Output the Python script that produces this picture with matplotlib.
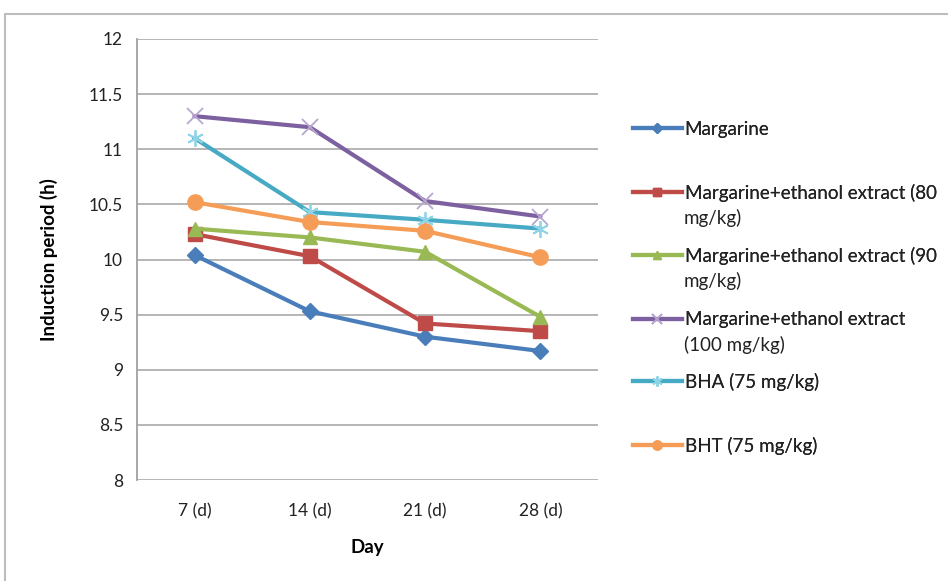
import matplotlib
matplotlib.use("Agg")
import matplotlib.pyplot as plt
from matplotlib.patches import Rectangle

plt.rcParams['font.family'] = ['Lato', 'DejaVu Sans']

days = ["7 (d)", "14 (d)", "21 (d)", "28 (d)"]
margarine = [10.04, 9.53, 9.30, 9.17]
extract_80 = [10.23, 10.03, 9.42, 9.35]
extract_90 = [10.28, 10.20, 10.07, 9.48]
extract_100 = [11.30, 11.20, 10.53, 10.39]
bha = [11.10, 10.43, 10.36, 10.28]
bht = [10.52, 10.34, 10.26, 10.02]

labels = [
    ("Margarine", ""),
    ("Margarine+ethanol extract (80", "mg/kg)"),
    ("Margarine+ethanol extract (90", "mg/kg)"),
    ("Margarine+ethanol extract", "(100 mg/kg)"),
    ("BHA (75 mg/kg)", ""),
    ("BHT (75 mg/kg)", ""),
]

W, H = 948, 581
fig = plt.figure(figsize=(W / 100, H / 100), dpi=100)
fig.patches.append(Rectangle((0.005, -0.1), 1.1, 1.076, transform=fig.transFigure,
                             fill=False, edgecolor="#bdbdbd", lw=1.5))
ax = fig.add_axes([0.1445, 0.1738, 0.4863, 0.7591])

x = range(len(days))
lines = []
lines += ax.plot(x, margarine, color="#4a7ebb", lw=3, marker="D", ms=8)
lines += ax.plot(x, extract_80, color="#be4b48", lw=3, marker="s", ms=10)
lines += ax.plot(x, extract_90, color="#98b954", lw=3, marker="^", ms=10)
lines += ax.plot(x, extract_100, color="#7d60a0", lw=3, marker="x", ms=11, mew=1.3,
                 mec="#b8a6d0")
lines += ax.plot(x, bha, color="#46aac5", lw=3, marker=(6, 2, 0), ms=12, mew=1.3,
                 mec="#8fd3e6")
lines += ax.plot(x, bht, color="#f59d56", lw=3, marker="o", ms=11)

ax.set_xlim(-0.5, 3.5)
ax.set_ylim(8, 12)
ax.set_yticks([8, 8.5, 9, 9.5, 10, 10.5, 11, 11.5, 12])
ax.set_yticklabels(["8", "8.5", "9", "9.5", "10", "10.5", "11", "11.5", "12"])
ax.set_xticks(list(x))
ax.set_xticklabels(days)
ax.grid(axis="y", color="#b0b0b0", lw=1.3)
ax.set_axisbelow(True)
for s in ["top", "right", "bottom"]:
    ax.spines[s].set_visible(False)
ax.spines["left"].set_color("#a0a0a0")
ax.spines["left"].set_linewidth(1.3)
ax.tick_params(axis="both", length=0, labelsize=12.5, colors="#222222", pad=10)
ax.tick_params(axis="x", pad=17)

ax.set_ylabel("Induction period (h)", fontsize=13.5, fontweight="bold", labelpad=22)
ax.set_xlabel("Day", fontsize=13.5, fontweight="bold", labelpad=14)

# legend: one entry per slot, handle aligned with the first text line (Excel style)
slot_y = [129, 193, 256, 320, 382, 446]
fs = 13.5
for ln, (first, second), py in zip(lines, labels, slot_y):
    leg = fig.legend([ln], [first], loc="center left",
                     bbox_to_anchor=(633 / W, 1 - py / H), frameon=False,
                     fontsize=fs, handlelength=2.6, handletextpad=0.15,
                     borderpad=0, borderaxespad=0, markerscale=0.6)
    fig.add_artist(leg)
    if second:
        fig.text(684 / W, 1 - (py + 25) / H, second, fontsize=fs,
                 va="center", ha="left", color="#222222")
    for t in leg.get_texts():
        t.set_color("#222222")

fig.savefig("out.png", dpi=100)
